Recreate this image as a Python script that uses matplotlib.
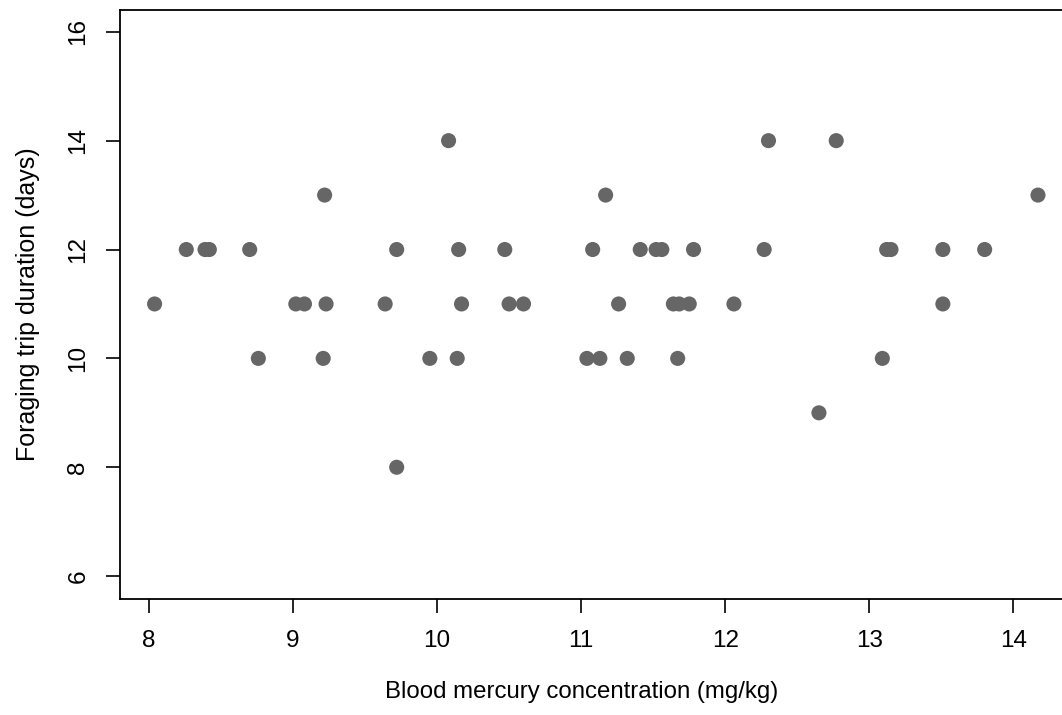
import matplotlib
matplotlib.use("Agg")
import matplotlib.pyplot as plt

# Blood mercury concentration (mg/kg)
mercury = [8.04, 8.26, 8.39, 8.42, 8.70, 8.76, 9.02, 9.08, 9.22, 9.23, 9.21,
           9.64, 9.72, 9.72, 9.95, 10.08, 10.15, 10.17, 10.14,
           10.47, 10.50, 10.60, 11.04, 11.08, 11.13, 11.17, 11.26, 11.32,
           11.41, 11.52, 11.56, 11.64, 11.68, 11.67, 11.75, 11.78,
           12.06, 12.27, 12.30, 12.65, 12.77, 13.09, 13.12, 13.15,
           13.51, 13.51, 13.80, 14.17]
# Foraging trip duration (days)
duration = [11, 12, 12, 12, 12, 10, 11, 11, 13, 11, 10,
            11, 12, 8, 10, 14, 12, 11, 10,
            12, 11, 11, 10, 12, 10, 13, 11, 10,
            12, 12, 12, 11, 11, 10, 11, 12,
            11, 12, 14, 9, 14, 10, 12, 12,
            12, 11, 12, 13]

x_ticks = [8, 9, 10, 11, 12, 13, 14]
y_ticks = [6, 8, 10, 12, 14, 16]

plt.rcParams['font.family'] = ['Liberation Sans', 'DejaVu Sans']

fig = plt.figure(figsize=(10.62, 7.15), dpi=100)
ax = fig.add_axes([120 / 1062, 116 / 715, 954 / 1062, 589 / 715])

ax.scatter(mercury, duration, s=118, color='#666666', edgecolors='none', zorder=3)

ax.set_xlim(7.80, 14.42)
ax.set_ylim(5.58, 16.40)
ax.set_xticks(x_ticks)
ax.set_yticks(y_ticks)
ax.set_xticklabels([str(t) for t in x_ticks])
ax.set_yticklabels([str(t) for t in y_ticks], rotation=90, va='center')

for sp in ax.spines.values():
    sp.set_linewidth(1.3)
    sp.set_color('black')

ax.tick_params(axis='both', direction='out', length=10, width=1.2,
               labelsize=17.5, colors='black')
ax.tick_params(axis='x', pad=12)
ax.tick_params(axis='y', pad=12)

ax.set_xlabel('Blood mercury concentration (mg/kg)', fontsize=17.3, labelpad=22)
ax.xaxis.set_label_coords(0.484, -0.139)
ax.set_ylabel('Foraging trip duration (days)', fontsize=18, labelpad=20)

fig.savefig('out.png', dpi=100)
